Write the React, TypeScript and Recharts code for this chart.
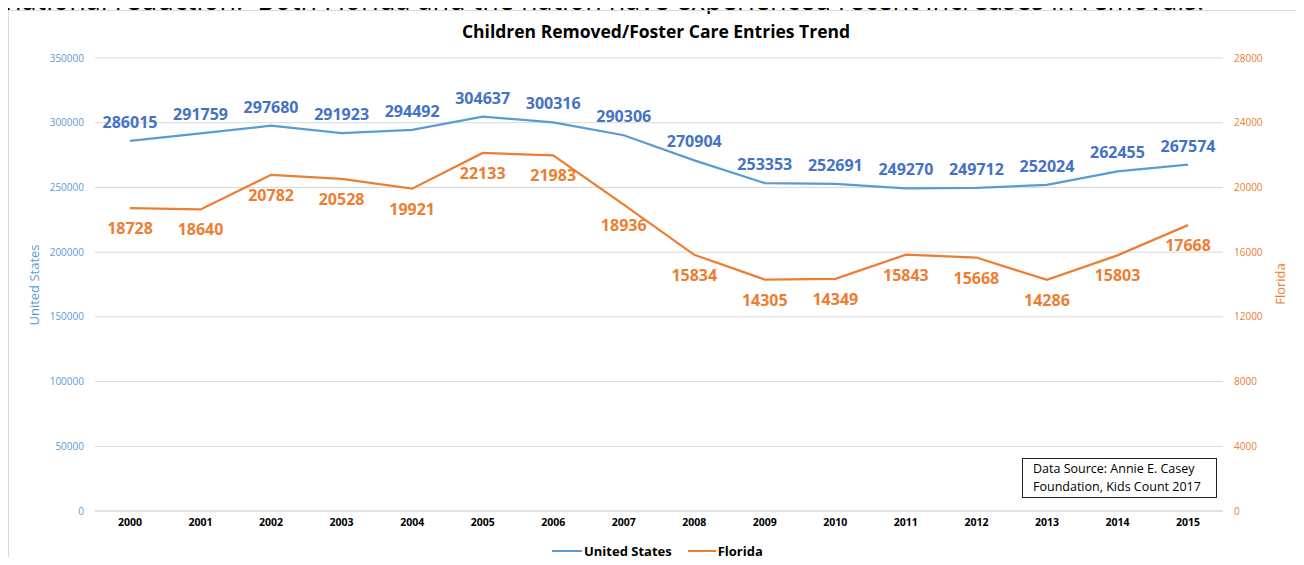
import React from 'react';
import { LineChart, Line, XAxis, YAxis, CartesianGrid } from 'recharts';

const years = ['2000', '2001', '2002', '2003', '2004', '2005', '2006', '2007', '2008', '2009', '2010', '2011', '2012', '2013', '2014', '2015'];
const usValues = [286015, 291759, 297680, 291923, 294492, 304637, 300316, 290306, 270904, 253353, 252691, 249270, 249712, 252024, 262455, 267574];
const flValues = [18728, 18640, 20782, 20528, 19921, 22133, 21983, 18936, 15834, 14305, 14349, 15843, 15668, 14286, 15803, 17668];
const usTicks = [0, 50000, 100000, 150000, 200000, 250000, 300000, 350000];
const flTicks = [0, 4000, 8000, 12000, 16000, 20000, 24000, 28000];

const data = years.map((y, i) => ({ year: y, us: usValues[i], fl: flValues[i] }));

const FONT = '"Open Sans", sans-serif';
const US_LINE = '#5B9BD5';
const US_LABEL = '#4472C4';
const FL = '#ED7D31';

const UsLabel = (props: any) => {
  const { x, y, value } = props;
  return (
    <text x={x} y={y - 13} textAnchor="middle" fill={US_LABEL} fontSize={16} fontWeight="bold" fontFamily={FONT}>
      {value}
    </text>
  );
};

const FlLabel = (props: any) => {
  const { x, y, value } = props;
  return (
    <text x={x} y={y + 26} textAnchor="middle" fill={FL} fontSize={16} fontWeight="bold" fontFamily={FONT}>
      {value}
    </text>
  );
};

export default function App() {
  return (
    <div style={{ position: 'relative', width: 1304, height: 565, margin: -8, overflow: 'hidden', background: '#fff', fontFamily: FONT }}>
      <svg width={1304} height={14} style={{ position: 'absolute', left: 0, top: 0 }}>
        <text x={5} y={10} fontSize={27} fill="#000" fontFamily={FONT} style={{ whiteSpace: 'pre' }}>
          national reduction.  Both Florida and the nation have experienced recent increases in removals.
        </text>
      </svg>
      <div style={{ position: 'absolute', left: 8, top: 10, width: 1400, height: 600, borderLeft: '1px solid #d9d9d9', borderTop: '1px solid #d9d9d9' }} />
      <div style={{ position: 'absolute', left: 8, top: 19, width: 1296, textAlign: 'center', fontSize: 17.5, fontWeight: 'bold', color: '#000' }}>
        Children Removed/Foster Care Entries Trend
      </div>
      <div style={{ position: 'absolute', left: 0, top: 0 }}>
        <LineChart width={1304} height={565} data={data} margin={{ top: 58, right: 21, bottom: 24, left: 35 }}>
          <CartesianGrid vertical={false} stroke="#d9d9d9" yAxisId="left" />
          <XAxis
            dataKey="year"
            interval={0}
            height={30}
            padding={{ left: 35, right: 35 }}
            axisLine={{ stroke: '#d9d9d9' }}
            tickLine={false}
            tick={{ fill: '#000', fontSize: 10.5, fontWeight: 'bold', fontFamily: FONT }}
          />
          <YAxis
            yAxisId="left"
            domain={[0, 350000]}
            ticks={usTicks}
            width={60}
            axisLine={false}
            tickLine={false}
            tickMargin={5}
            tick={{ fill: US_LINE, fontSize: 10, fontFamily: FONT }}
          />
          <YAxis
            yAxisId="right"
            orientation="right"
            domain={[0, 28000]}
            ticks={flTicks}
            width={60}
            axisLine={false}
            tickLine={false}
            tickMargin={5}
            tick={{ fill: FL, fontSize: 10, fontFamily: FONT, textAnchor: 'start' }}
          />
          <Line yAxisId="left" dataKey="us" stroke={US_LINE} strokeWidth={2.25} dot={false} isAnimationActive={false} label={<UsLabel />} />
          <Line yAxisId="right" dataKey="fl" stroke={FL} strokeWidth={2.25} dot={false} isAnimationActive={false} label={<FlLabel />} />
        </LineChart>
      </div>
      <div style={{ position: 'absolute', left: 34, top: 285, width: 0, height: 0 }}>
        <div style={{ position: 'absolute', transform: 'translate(-50%, -50%) rotate(-90deg)', whiteSpace: 'nowrap', fontSize: 13, color: US_LINE }}>
          United States
        </div>
      </div>
      <div style={{ position: 'absolute', left: 1280, top: 284, width: 0, height: 0 }}>
        <div style={{ position: 'absolute', transform: 'translate(-50%, -50%) rotate(-90deg)', whiteSpace: 'nowrap', fontSize: 13, color: FL }}>
          Florida
        </div>
      </div>
      <div style={{ position: 'absolute', left: 1022, top: 458, width: 183, height: 37, border: '1.5px solid #222', padding: '1px 0 0 10px', boxSizing: 'content-box', fontSize: 12.5, lineHeight: '18px', color: '#000', whiteSpace: 'nowrap' }}>
        Data Source: Annie E. Casey
        <br />
        Foundation, Kids Count 2017
      </div>
      <div style={{ position: 'absolute', left: 552, top: 542, display: 'flex', alignItems: 'center', fontSize: 13, fontWeight: 'bold', color: '#000', whiteSpace: 'nowrap' }}>
        <span style={{ display: 'inline-block', width: 30, height: 2.25, background: US_LINE, marginRight: 2 }} />
        <span>United States</span>
        <span style={{ display: 'inline-block', width: 28, height: 2.25, background: FL, marginLeft: 16, marginRight: 2 }} />
        <span>Florida</span>
      </div>
    </div>
  );
}
